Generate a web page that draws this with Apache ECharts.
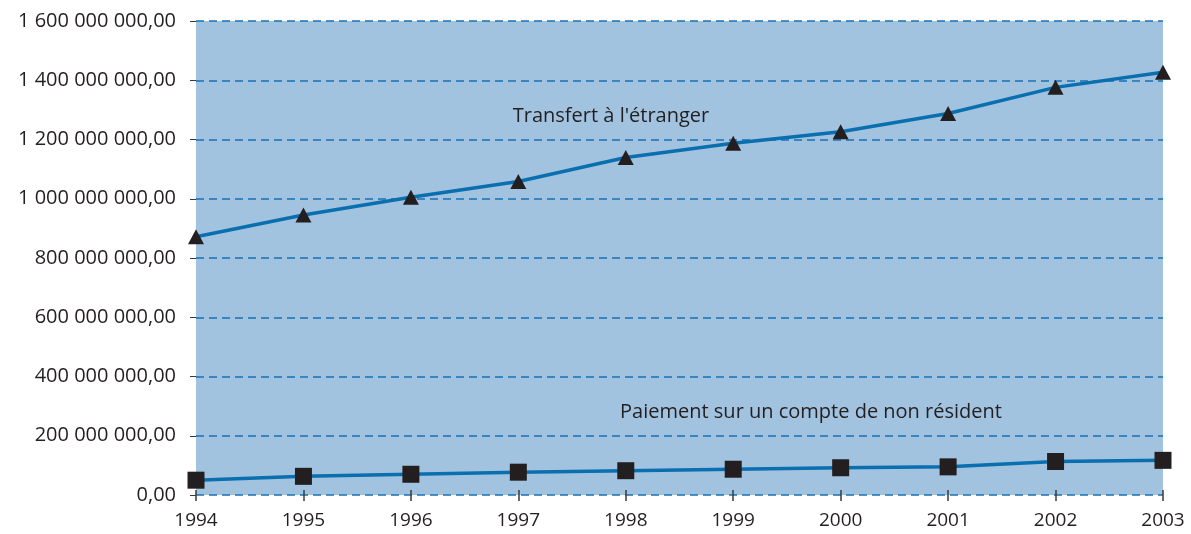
<!DOCTYPE html>
<html>
<head>
<meta charset="utf-8">
<script src="https://cdn.jsdelivr.net/npm/echarts@6/dist/echarts.min.js"></script>
<style>
  html, body { margin: 0; padding: 0; background: #ffffff; }
  #chart { width: 1191px; height: 534px; }
</style>
</head>
<body>
<div id="chart"></div>
<script>
// Years on the horizontal axis
const years = ['1994', '1995', '1996', '1997', '1998', '1999', '2000', '2001', '2002', '2003'];

// Amounts per year
const transfertEtranger = [872e6, 945e6, 1005e6, 1058e6, 1139e6, 1187e6, 1226e6, 1288e6, 1376e6, 1427e6];
const paiementNonResident = [50e6, 63e6, 70e6, 77e6, 82e6, 87e6, 92e6, 95e6, 113e6, 117e6];

// Vertical axis range and step
const yMin = 0;
const yMax = 1600000000;
const yStep = 200000000;

// Series captions
const seriesNames = ["Transfert à l'étranger", 'Paiement sur un compte de non résident'];

const FONT = '"Open Sans", "Noto Sans", sans-serif';
const TEXT = '#231f20';
const LINE = '#0a6fae';

// "1 600 000 000,00" style: space thousands separator, comma decimals
function frNumber(v) {
  const intPart = Math.round(v).toString().replace(/\B(?=(\d{3})+(?!\d))/g, ' ');
  return intPart + ',00';
}

const chart = echarts.init(document.getElementById('chart'), null, { renderer: 'canvas' });

chart.setOption({
  animation: false,
  backgroundColor: '#ffffff',
  grid: {
    left: 196, right: 28, top: 21, bottom: 39,
    show: true, backgroundColor: '#a2c3e0', borderWidth: 0
  },
  xAxis: [{
    type: 'category',
    data: years,
    boundaryGap: false,
    axisLine: { show: false },
    axisTick: { show: true, alignWithLabel: true, length: 6, lineStyle: { color: '#3a3a3a', width: 1.5 } },
    axisLabel: { color: TEXT, fontFamily: FONT, fontSize: 19, margin: 16 },
    splitLine: { show: false }
  }, {
    // inner half of the crossing year ticks
    type: 'category',
    data: years,
    boundaryGap: false,
    position: 'bottom',
    axisLine: { show: false },
    axisTick: { show: true, inside: true, length: 5, lineStyle: { color: '#3a3a3a', width: 1.5 } },
    axisLabel: { show: false },
    splitLine: { show: false }
  }],
  yAxis: {
    type: 'value',
    min: yMin, max: yMax, interval: yStep,
    axisLine: { show: false },
    axisTick: { show: true, length: 6, lineStyle: { color: '#3a3a3a', width: 1 } },
    axisLabel: { color: TEXT, fontFamily: FONT, fontSize: 20, margin: 20, formatter: frNumber },
    splitLine: {
      show: true,
      lineStyle: { color: '#1a72b4', width: 1.5, type: [8, 5] }
    }
  },
  series: [{
    name: seriesNames[0],
    type: 'line',
    data: transfertEtranger,
    symbol: 'triangle',
    symbolSize: [16, 15],
    showAllSymbol: true,
    lineStyle: { color: LINE, width: 3.5 },
    itemStyle: { color: TEXT, borderWidth: 0 },
    z: 3
  }, {
    name: seriesNames[1],
    type: 'line',
    data: paiementNonResident,
    symbol: 'rect',
    symbolSize: 17,
    showAllSymbol: true,
    lineStyle: { color: LINE, width: 3.5 },
    itemStyle: { color: TEXT, borderWidth: 0 },
    z: 3
  }],
  graphic: [{
    type: 'text',
    x: 611, y: 116,
    style: {
      text: seriesNames[0],
      fill: TEXT, font: '20px ' + FONT,
      textAlign: 'center', textVerticalAlign: 'middle'
    },
    z: 10
  }, {
    type: 'text',
    x: 811, y: 412,
    style: {
      text: seriesNames[1],
      fill: TEXT, font: '20px ' + FONT,
      textAlign: 'center', textVerticalAlign: 'middle'
    },
    z: 10
  }]
});
</script>
</body>
</html>
